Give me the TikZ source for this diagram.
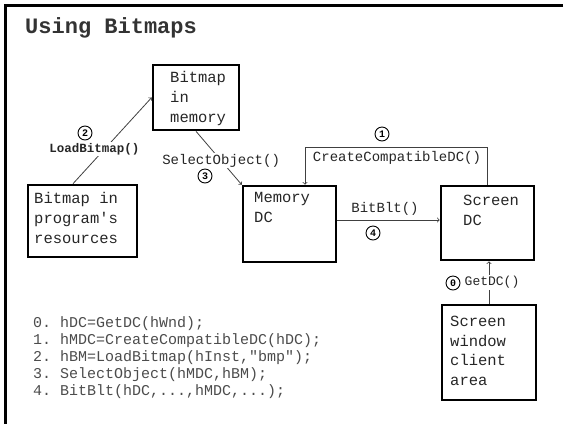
\documentclass[tikz,border=0pt]{standalone}
\usepackage{fontspec}
\setmonofont{Liberation Mono}
\begin{document}
\begin{tikzpicture}[x=1pt,y=-1pt,
	box/.style={draw,line width=2.6pt,inner sep=0pt},
	txt/.style={anchor=north west,align=left,inner sep=0pt,text=black!85,font=\ttfamily\fontsize{15.5}{20}\selectfont},
	lbl/.style={fill=white,inner sep=1pt,text=black!85,font=\ttfamily\fontsize{14}{14}\selectfont},
	num/.style={circle,draw,line width=0.9pt,minimum size=14pt,inner sep=0pt,font=\ttfamily\bfseries\fontsize{10}{10}\selectfont},
	arr/.style={->,black!75,line width=0.8pt}]
	\useasboundingbox (0,0) rectangle (564,424);
	\draw[line width=3pt] (563,5) -- (5,5) -- (5,424);
	\node[anchor=west,inner sep=0pt,text=black!80,font=\ttfamily\bfseries\fontsize{22}{22}\selectfont] (title) at (25,28) {Using Bitmaps};
	\node[box,minimum width=86,minimum height=65] (bmem) at (196,97.5) {};
	\node[box,minimum width=109,minimum height=72] (bres) at (82.5,221) {};
	\node[box,minimum width=93,minimum height=76] (mdc) at (289.5,224) {};
	\node[box,minimum width=93,minimum height=74] (sdc) at (487.5,223) {};
	\node[box,minimum width=94,minimum height=95] (swin) at (489,352.5) {};
	\node[txt] (bmemtxt) at (170,71) {Bitmap\\in\\memory};
	\node[txt] (brestxt) at (34,192) {Bitmap in\\program's\\resources};
	\node[txt] (mdctxt) at (254,192) {Memory\\DC};
	\node[txt] (sdctxt) at (463,195) {Screen\\DC};
	\node[txt,font=\ttfamily\fontsize{15.5}{19.5}\selectfont] (swintxt) at (450,316) {Screen\\window\\client\\area};
	\draw[arr] ([xshift=-9.5pt]bres.north) -- node[lbl,pos=0.4,xshift=-10pt,font=\ttfamily\bfseries\fontsize{12.5}{12.5}\selectfont] (lbtxt) {LoadBitmap()} (bmem.west);
	\draw[arr] (bmem.south) -- node[lbl,pos=0.55] (sotxt) {SelectObject()} (mdc.north west);
	\draw[arr] (sdc.north) -- ++(0,-37) coordinate (cc) -| ([xshift=15.5pt]mdc.north);
	\draw[arr] ([yshift=4pt]mdc.east) coordinate (bb) -- (bb -| sdc.west);
	\draw[arr] (swin.north) -- node[lbl,midway,xshift=3pt,font=\ttfamily\fontsize{13}{13}\selectfont] (gdtxt) {GetDC()} (swin.north |- sdc.south);
	\node[lbl,fill=none] (cctxt) at (397,158) {CreateCompatibleDC()};
	\node[lbl,fill=none] (bbtxt) at (385,209) {BitBlt()};
	\node[num] (n2) at (85,133) {2};
	\node[num] (n3) at (205,176) {3};
	\node[num] (n1) at (382,134) {1};
	\node[num] (n4) at (373,233) {4};
	\node[num] (n0) at (453,283) {0};
	\node[anchor=north west,align=left,inner sep=0pt,text=black!70,font=\ttfamily\fontsize{15}{17}\selectfont] (code) at (33,316) {0. hDC=GetDC(hWnd);\\1. hMDC=CreateCompatibleDC(hDC);\\2. hBM=LoadBitmap(hInst,"bmp");\\3. SelectObject(hMDC,hBM);\\4. BitBlt(hDC,...,hMDC,...);};
\end{tikzpicture}
\end{document}
